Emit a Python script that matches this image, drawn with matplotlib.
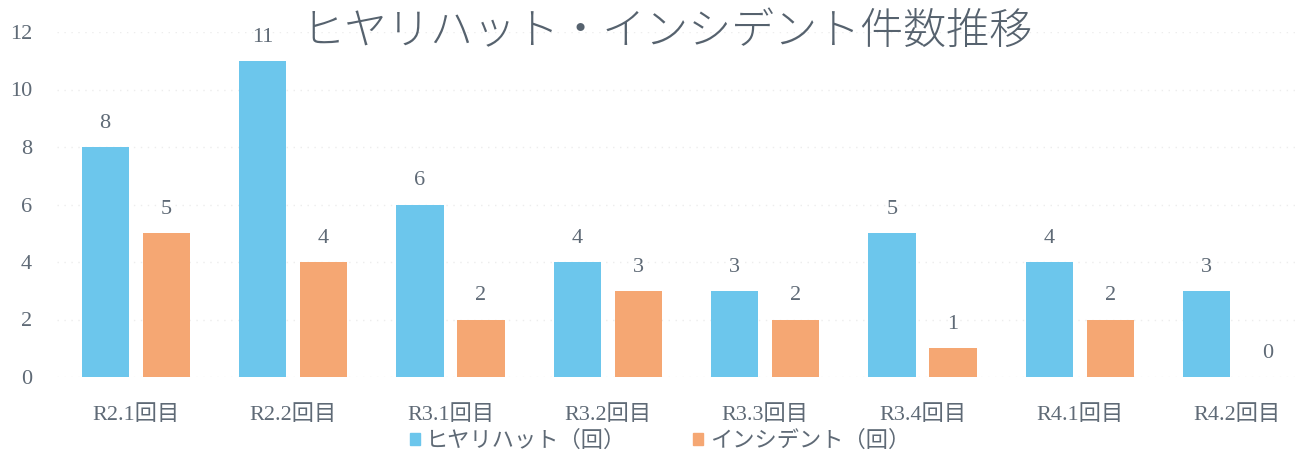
import matplotlib
matplotlib.use("Agg")
import matplotlib.pyplot as plt
import numpy as np
from matplotlib.patches import Patch

plt.rcParams['font.family'] = ['Liberation Serif', 'Noto Sans CJK JP', 'DejaVu Sans']

title = "ヒヤリハット・インシデント件数推移"
categories = ["R2.1回目", "R2.2回目", "R3.1回目", "R3.2回目",
              "R3.3回目", "R3.4回目", "R4.1回目", "R4.2回目"]
hiyari = [8, 11, 6, 4, 3, 5, 4, 3]
incident = [5, 4, 2, 3, 2, 1, 2, 0]
series_names = ["ヒヤリハット（回）", "インシデント（回）"]
yticks = [0, 2, 4, 6, 8, 10, 12]

blue = "#6cc6ec"
orange = "#f5a773"
text_col = "#5f6a76"

fig = plt.figure(figsize=(12.95, 4.54), dpi=100)
ax = fig.add_axes([57 / 1295, 77 / 454, (1316 - 57) / 1295, (377 - 32) / 454])

x = np.arange(len(categories))
w = 0.30
off = 0.194
b1 = ax.bar(x - off, hiyari, w, color=blue, zorder=2)
b2 = ax.bar(x + off, incident, w, color=orange, zorder=2)

for bars, vals in ((b1, hiyari), (b2, incident)):
    for r, v in zip(bars, vals):
        ax.annotate(str(v), (r.get_x() + r.get_width() / 2, v),
                    xytext=(0, 17), textcoords="offset points",
                    ha="center", va="center", fontsize=16, color=text_col)

ax.set_xlim(-0.5, len(categories) - 0.5)
ax.set_ylim(0, 12)
ax.set_yticks(yticks)
ax.set_yticklabels([str(t) for t in yticks], fontsize=16, color=text_col)
ax.set_xticks(x)
ax.set_xticklabels(categories, fontsize=16, color=text_col)
ax.tick_params(length=0)
ax.tick_params(axis='y', pad=18)
ax.tick_params(axis='x', pad=20)
for s in ax.spines.values():
    s.set_visible(False)
ax.grid(axis='y', color="#ededed", linestyle=(0, (1, 4)), linewidth=1.0, zorder=0)
ax.set_axisbelow(True)

fig.text(667 / 1295, 1 - 31 / 454, title, ha="center", va="center",
         fontsize=31, color="#56626e", family=['Noto Sans CJK JP'], fontweight='light')

handles = [Patch(color=blue), Patch(color=orange)]
fig.legend(handles, series_names, loc="center", bbox_to_anchor=(660 / 1295, 1 - 440 / 454),
           ncol=2, frameon=False, handlelength=0.45, handleheight=0.45,
           handletextpad=0.3, columnspacing=3.0, labelcolor=text_col,
           prop={'family': ['Noto Sans CJK JP'], 'size': 16})

fig.savefig("out.png", dpi=100, facecolor="white")
